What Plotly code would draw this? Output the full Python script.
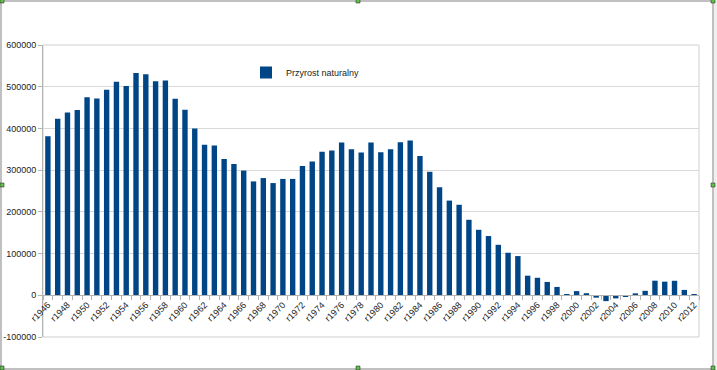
import plotly.graph_objects as go

years = [f"r{y}" for y in range(1946, 2013)]
values = [
    381000, 423000, 438000, 444000, 475000, 472000, 493000, 512000, 502000, 533000,
    530000, 513000, 515000, 471000, 445000, 400000, 361000, 359000, 327000, 315000,
    299000, 273000, 281000, 269000, 279000, 279000, 310000, 321000, 344000, 347000,
    366000, 350000, 342000, 366000, 343000, 350000, 367000, 371000, 334000, 296000,
    259000, 227000, 217000, 181000, 157000, 142000, 121000, 102000, 94000, 47000,
    42000, 32000, 20000, 1000, 10000, 5000, -5700, -14000, -7400, -3900,
    4600, 10700, 35000, 32700, 34800, 12900, 1500,
]
tick_labels = [y if i % 2 == 0 else "" for i, y in enumerate(years)]
series_name = "Przyrost naturalny"
y_ticks = [-100000, 0, 100000, 200000, 300000, 400000, 500000, 600000]

W, H = 717, 370
L, R, T, B = 43, 18, 45, 33
PW, PH = W - L - R, H - T - B


def px(x):
    return (x - L) / PW


def py(y):
    return 1 - (y - T) / PH


fig = go.Figure()
fig.add_trace(go.Bar(
    x=years, y=values, name=series_name,
    marker=dict(color="#004586", line=dict(width=0)),
    showlegend=True,
))

shapes = []
# plot-area frame
shapes.append(dict(type="rect", xref="paper", yref="paper", x0=0, x1=1, y0=0, y1=1,
                   line=dict(color="#cfcfcf", width=1), fillcolor="rgba(0,0,0,0)", layer="below"))
# outer selection frame
frame_col = "#c0c0c0"
shapes += [
    dict(type="rect", xref="paper", yref="paper", x0=px(0), x1=px(713), y0=py(0), y1=py(2),
         line=dict(width=0), fillcolor=frame_col),
    dict(type="rect", xref="paper", yref="paper", x0=px(0), x1=px(2), y0=py(0), y1=py(370),
         line=dict(width=0), fillcolor=frame_col),
    dict(type="rect", xref="paper", yref="paper", x0=px(712), x1=px(714), y0=py(0), y1=py(370),
         line=dict(width=0), fillcolor=frame_col),
    dict(type="rect", xref="paper", yref="paper", x0=px(0), x1=px(714), y0=py(368), y1=py(370),
         line=dict(width=0), fillcolor=frame_col),
    dict(type="rect", xref="paper", yref="paper", x0=px(714), x1=px(717), y0=py(0), y1=py(370),
         line=dict(width=0), fillcolor="#f0f0f0"),
]
for hx, hy in [(2, 1), (358, 1), (713, 1), (2, 185), (713, 185), (2, 368), (358, 368), (713, 368)]:
    shapes.append(dict(type="rect", xref="paper", yref="paper",
                       x0=px(hx - 2), x1=px(hx + 2), y0=py(hy - 2), y1=py(hy + 2),
                       line=dict(color="#1a1a1a", width=0.5), fillcolor="#5fc24a"))

fig.update_layout(
    width=W, height=H,
    margin=dict(l=L, r=R, t=T, b=B, pad=0, autoexpand=False),
    paper_bgcolor="white", plot_bgcolor="white",
    font=dict(family="Liberation Sans, Arial, sans-serif", size=9, color="#222222"),
    bargap=0.45,
    shapes=shapes,
    legend=dict(x=px(246), y=py(58), xanchor="left", yanchor="top",
                bgcolor="rgba(0,0,0,0)", font=dict(size=9, color="#222222"),
                itemwidth=30),
    xaxis=dict(
        type="category", categoryorder="array", categoryarray=years,
        tickmode="array", tickvals=years, ticktext=tick_labels,
        tickangle=-45, tickson="boundaries", ticks="outside", ticklen=4,
        tickcolor="#b3b3b3", showline=True, linecolor="#b3b3b3", linewidth=1,
        showgrid=False, anchor="free", position=1 / 7, automargin=False,
        range=[-0.5, len(years) - 0.5], tickfont=dict(size=9),
    ),
    yaxis=dict(
        range=[-100000, 600000], tickvals=y_ticks, ticktext=[str(v) for v in y_ticks],
        showgrid=True, gridcolor="#d9d9d9", gridwidth=1, automargin=False,
        zeroline=False, showline=True, linecolor="#b3b3b3",
        ticks="outside", ticklen=4, tickcolor="#b3b3b3", tickfont=dict(size=9),
    ),
)

fig.write_html(
    "out.html",
    config={"displayModeBar": False},
    post_script="document.body.style.margin='0';document.body.style.padding='0';",
)
